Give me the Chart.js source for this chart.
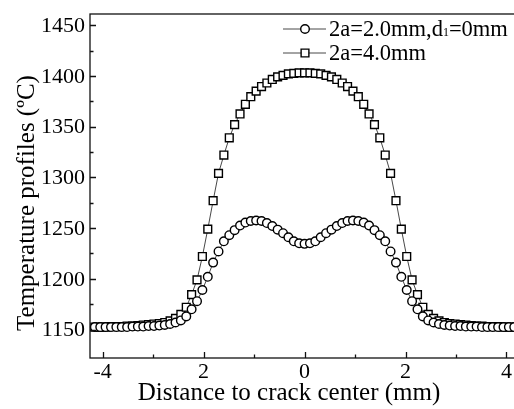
<!DOCTYPE html>
<html>
<head>
<meta charset="utf-8">
<script src="https://cdn.jsdelivr.net/npm/chart.js"></script>
<style>
  html, body { margin: 0; padding: 0; background: #fff; overflow: hidden; }
  canvas { display: block; }
</style>
</head>
<body>
<canvas id="profile-chart" width="526" height="409"></canvas>
<script>
// Distance to crack center (mm), one point per node
const xDist = [
    -4.154, -4.047, -3.941, -3.834, -3.728, -3.621, -3.515, -3.408, -3.302,
    -3.195, -3.089, -2.982, -2.876, -2.769, -2.663, -2.556, -2.45, -2.343, -2.237,
    -2.13, -2.024, -1.917, -1.811, -1.704, -1.598, -1.491, -1.385, -1.278, -1.172,
    -1.065, -0.959, -0.852, -0.746, -0.639, -0.533, -0.426, -0.32, -0.213, -0.107,
    0,
    0.107, 0.213, 0.32, 0.426, 0.533, 0.639, 0.746, 0.852, 0.959, 1.065,
    1.172, 1.278, 1.385, 1.491, 1.598, 1.704, 1.811, 1.917, 2.024, 2.13,
    2.237, 2.343, 2.45, 2.556, 2.663, 2.769, 2.876, 2.982, 3.089, 3.195,
    3.302, 3.408, 3.515, 3.621, 3.728, 3.834, 3.941, 4.047, 4.154
];

// 2a=2.0mm, d1=0mm
const tempCrack2 = [
    1152.5, 1152.5, 1152.5, 1152.5, 1152.5, 1152.5, 1152.5, 1153, 1153,
    1153, 1153.5, 1153.5, 1154, 1154.5, 1155.5, 1157, 1159, 1163, 1170,
    1178, 1189, 1202, 1216, 1227, 1237, 1243, 1248, 1252.5, 1255.5,
    1257, 1257.5, 1257, 1255, 1252, 1248.5, 1245, 1241, 1237, 1235,
    1234.5,
    1235, 1237, 1241, 1245, 1248.5, 1252, 1255, 1257, 1257.5, 1257,
    1255.5, 1252.5, 1248, 1243, 1237, 1227, 1216, 1202, 1189, 1178,
    1170, 1163, 1159, 1157, 1155.5, 1154.5, 1154, 1153.5, 1153.5, 1153,
    1153, 1153, 1152.5, 1152.5, 1152.5, 1152.5, 1152.5, 1152.5, 1152.5
];

// 2a=4.0mm
const tempCrack4 = [
    1152.5, 1152.5, 1152.5, 1153, 1153, 1153, 1153.5, 1153.5, 1154,
    1154.5, 1155, 1155.5, 1156, 1157, 1158.5, 1161, 1165, 1172, 1184.5,
    1199, 1222, 1249, 1277, 1304, 1322, 1339, 1352, 1362.5, 1372,
    1379.5, 1385, 1389.5, 1393, 1396.5, 1399, 1400.5, 1402, 1402.5, 1403,
    1403,
    1403, 1402.5, 1402, 1400.5, 1399, 1396.5, 1393, 1389.5, 1385, 1379.5,
    1372, 1362.5, 1352, 1339, 1322, 1304, 1277, 1249, 1222, 1199,
    1184.5, 1172, 1165, 1161, 1158.5, 1157, 1156, 1155.5, 1155, 1154.5,
    1154, 1153.5, 1153.5, 1153, 1153, 1153, 1152.5, 1152.5, 1152.5
];

const yTicks = [1150, 1200, 1250, 1300, 1350, 1400, 1450];
const yMinorTicks = [1175, 1225, 1275, 1325, 1375, 1425];
const xTicks = [-4, -2, 0, 2, 4];
const xTickLabels = ['-4', '2', '0', '2', '4'];
const xMinorTicks = [-3, -1, 1, 3];

const FONT = '"Liberation Serif", "Times New Roman", serif';

function toPoints(ys) {
    return xDist.map((x, i) => ({ x, y: ys[i] }));
}

function drawMarker(ctx, style, x, y, r) {
    ctx.beginPath();
    if (style === 'rect') {
        const s = r * Math.SQRT1_2;
        ctx.rect(x - s, y - s, 2 * s, 2 * s);
    } else {
        ctx.arc(x, y, r, 0, Math.PI * 2);
    }
    ctx.fillStyle = '#fff';
    ctx.fill();
    ctx.stroke();
}

// frame, inward ticks, labels, titles and legend
const axesPlugin = {
    id: 'axesPlugin',
    afterDraw(chart) {
        const { ctx, chartArea: a } = chart;
        const xs = chart.scales.x;
        const ys = chart.scales.y;
        ctx.save();
        ctx.strokeStyle = '#111';
        ctx.lineWidth = 1.3;
        ctx.strokeRect(a.left, a.top, a.right - a.left, a.bottom - a.top);

        ctx.beginPath();
        yTicks.forEach(v => {
            const py = Math.round(ys.getPixelForValue(v)) + 0.5;
            ctx.moveTo(a.left, py); ctx.lineTo(a.left + 6, py);
        });
        yMinorTicks.forEach(v => {
            const py = Math.round(ys.getPixelForValue(v)) + 0.5;
            ctx.moveTo(a.left, py); ctx.lineTo(a.left + 3.5, py);
        });
        xTicks.forEach(v => {
            const px = Math.round(xs.getPixelForValue(v)) + 0.5;
            ctx.moveTo(px, a.bottom); ctx.lineTo(px, a.bottom - 6);
        });
        xMinorTicks.forEach(v => {
            const px = Math.round(xs.getPixelForValue(v)) + 0.5;
            ctx.moveTo(px, a.bottom); ctx.lineTo(px, a.bottom - 3.5);
        });
        ctx.stroke();

        ctx.fillStyle = '#000';
        ctx.font = '22px ' + FONT;
        ctx.textAlign = 'right';
        ctx.textBaseline = 'middle';
        yTicks.forEach(v => ctx.fillText(String(v), a.left - 5, ys.getPixelForValue(v) + 1));

        ctx.textAlign = 'center';
        ctx.textBaseline = 'middle';
        xTicks.forEach((v, i) => ctx.fillText(xTickLabels[i], xs.getPixelForValue(v), 372));

        // axis titles
        ctx.font = '25px ' + FONT;
        ctx.fillText('Distance to crack center (mm)', 289, 393);
        ctx.save();
        ctx.translate(27, 203);
        ctx.rotate(-Math.PI / 2);
        ctx.fillText('Temperature profiles (ºC)', 0, 0);
        ctx.restore();

        // legend
        ctx.textAlign = 'left';
        const rows = [
            { y: 29, style: 'circle', r: 4.3, parts: [['2a=2.0mm,d', 0], ['1', 1], ['=0mm', 0]] },
            { y: 53, style: 'rect', r: 5.5, parts: [['2a=4.0mm', 0]] }
        ];
        rows.forEach(row => {
            ctx.strokeStyle = '#333';
            ctx.lineWidth = 0.9;
            ctx.beginPath();
            ctx.moveTo(283, row.y); ctx.lineTo(326, row.y);
            ctx.stroke();
            ctx.strokeStyle = '#000';
            ctx.lineWidth = 1.4;
            drawMarker(ctx, row.style, 305, row.y, row.r);
            ctx.fillStyle = '#000';
            let tx = 329;
            row.parts.forEach(([txt, sub]) => {
                ctx.font = (sub ? '12px ' : '22.5px ') + FONT;
                ctx.fillText(txt, tx, row.y + (sub ? 4 : 1));
                tx += ctx.measureText(txt).width;
            });
        });
        ctx.restore();
    }
};

new Chart(document.getElementById('profile-chart'), {
    type: 'line',
    data: {
        datasets: [
            {
                label: '2a=2.0mm,d1=0mm',
                data: toPoints(tempCrack2),
                borderColor: '#333',
                borderWidth: 0.9,
                pointStyle: 'circle',
                pointRadius: 4.3,
                pointBorderWidth: 1.4,
                pointBorderColor: '#000',
                pointBackgroundColor: '#fff',
                clip: false
            },
            {
                label: '2a=4.0mm',
                data: toPoints(tempCrack4),
                borderColor: '#333',
                borderWidth: 0.9,
                pointStyle: 'rect',
                pointRadius: 5.5,
                pointBorderWidth: 1.4,
                pointBorderColor: '#000',
                pointBackgroundColor: '#fff',
                clip: false
            }
        ]
    },
    options: {
        responsive: false,
        animation: false,
        layout: { padding: { left: 90, top: 14, right: 3, bottom: 51 } },
        plugins: {
            legend: { display: false },
            tooltip: { enabled: false }
        },
        scales: {
            x: { type: 'linear', min: -4.25, max: 4.25, display: false },
            y: { type: 'linear', min: 1122, max: 1461, display: false }
        }
    },
    plugins: [axesPlugin]
});
</script>
</body>
</html>
